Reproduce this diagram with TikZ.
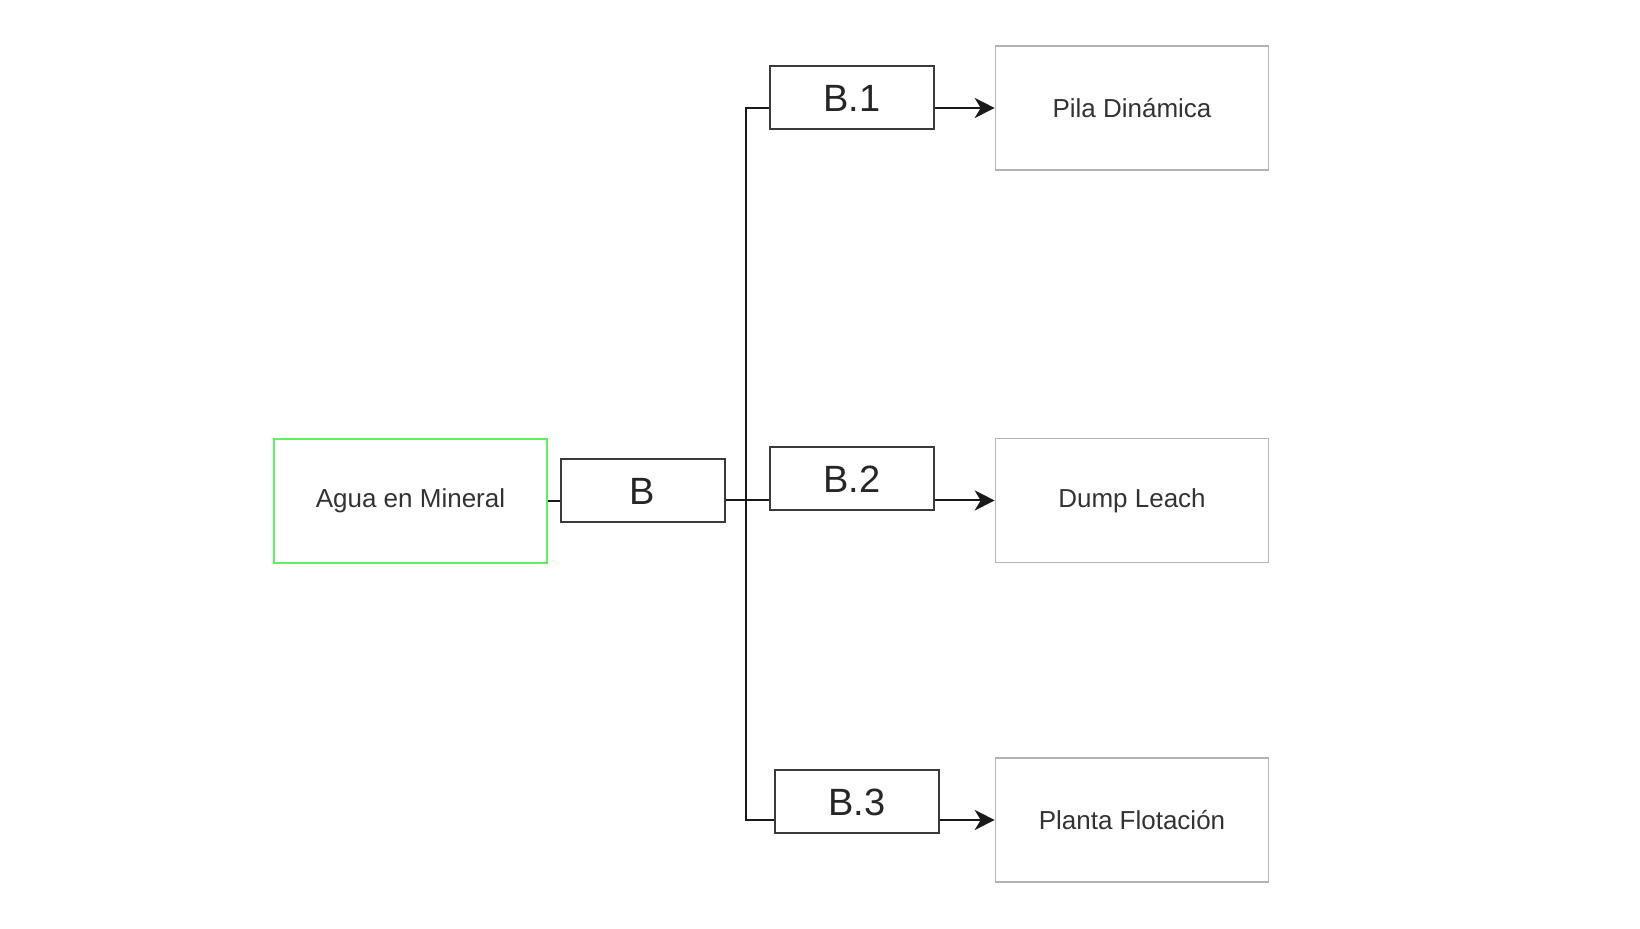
\documentclass[tikz,border=0pt]{standalone}
\usepackage{fontspec}
\setmainfont{Liberation Sans}
\usepackage{tikz}
\usepackage{xcolor}
\usetikzlibrary{calc,arrows.meta}
\definecolor{greenline}{HTML}{5EF05E}
\definecolor{grayline}{HTML}{B4B4B4}
\definecolor{darkline}{HTML}{3A3A3A}
\definecolor{labeltext}{HTML}{333333}
\tikzstyle{srcbox} =[
    draw=greenline,
    line width=1pt,
    rectangle,
    minimum width=136.5pt,
    minimum height=62pt,
    text=labeltext,
    font=\fontsize{13}{15}\selectfont
    ]
\tikzstyle{codebox} = [
    draw=darkline,
    line width=1pt,
    rectangle,
    minimum width=82pt,
    minimum height=31.5pt,
    text=black!85,
    font=\fontsize{19}{22}\selectfont
    ]
\tikzstyle{destbox} = [
    draw=grayline,
    line width=0.8pt,
    rectangle,
    minimum width=136.5pt,
    minimum height=62pt,
    text=labeltext,
    font=\fontsize{13}{15}\selectfont
    ]
\tikzstyle{link} = [
    draw=black!90,
    line width=1pt
    ]
\tikzstyle{linkarrow} = [
    link,
    -{Stealth[length=10pt,width=10pt,inset=3pt]}
    ]

\begin{document}
\begin{tikzpicture}[x=0.5pt,y=-0.5pt]
\useasboundingbox (0,0) rectangle (1640,929);
% source and B
\node [srcbox] (agua) at (410.5,501) {Agua en Mineral};
\node [codebox] (b) at (642.5,491) {B};
% branches
\node [codebox] (b1) at (852,98) {B.1};
\node [codebox] (b2) at (852,479) {B.2};
\node [codebox] (b3) at (857,802) {B.3};
\node [destbox] (pila) at (1132,108) {Pila Dinámica};
\node [destbox] (dump) at (1132,500.5) {Dump Leach};
\node [destbox] (planta) at (1132,820) {Planta Flotación};
\coordinate (trunk) at (746,500);

\draw [link] (agua.east) -- (agua.east -| b.west);
\draw [link] (dump.west -| b.east) -- (dump.west -| b2.west);
\draw [link] (pila.west -| b1.west) -- (pila.west -| trunk)
    -- (planta.west -| trunk) -- (planta.west -| b3.west);
\draw [linkarrow] (pila.west -| b1.east) -- (pila.west);
\draw [linkarrow] (dump.west -| b2.east) -- (dump.west);
\draw [linkarrow] (planta.west -| b3.east) -- (planta.west);
\end{tikzpicture}
\end{document}
